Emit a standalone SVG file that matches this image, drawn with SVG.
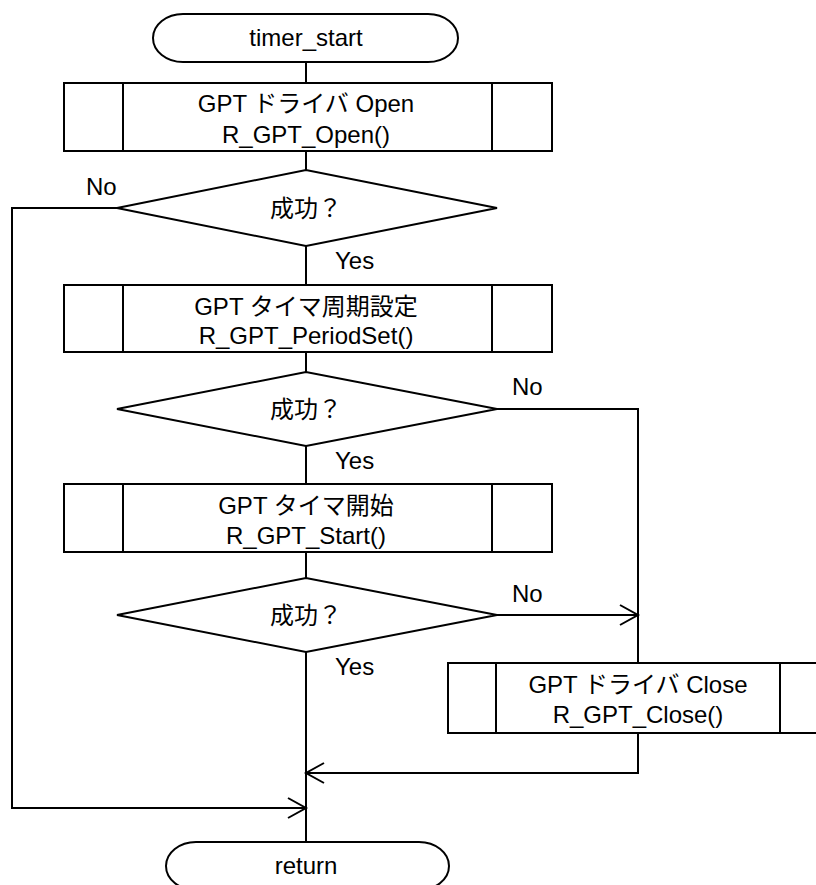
<svg xmlns="http://www.w3.org/2000/svg" width="816" height="885" viewBox="0 0 816 885">
<style>
.s{fill:#fff;stroke:#000;stroke-width:2}
.l{fill:none;stroke:#000;stroke-width:2}
text{font-family:"Liberation Sans","Noto Sans CJK JP",sans-serif;font-size:24px;fill:#000}
.c{text-anchor:middle}
</style>
<defs>
<marker id="arr" viewBox="-20 -12 22 24" refX="0" refY="0" markerWidth="22" markerHeight="24" orient="auto" markerUnits="userSpaceOnUse" overflow="visible">
<path d="M-18,-10 L0,0 L-18,10" fill="none" stroke="#000" stroke-width="2"/>
</marker>
</defs>
<rect width="816" height="885" fill="#fff"/>
<g id="connectors">
<path class="l" d="M306,62 V83 M306,151 V170 M306,246 V285 M306,352 V372 M306,446 V484 M306,552 V578 M306,652 V842"/>
<path class="l" d="M117,208 H12 V808 H306" marker-end="url(#arr)"/>
<path class="l" d="M497,409 H638 V663"/>
<path class="l" d="M497,615 H638" marker-end="url(#arr)"/>
<path class="l" d="M638,733 V773 H306" marker-end="url(#arr)"/>
<text x="86" y="195">No</text>
<text x="335" y="269">Yes</text>
<text x="512" y="395">No</text>
<text x="335" y="469">Yes</text>
<text x="512" y="602">No</text>
<text x="335" y="675">Yes</text>
</g>
<g id="start">
<rect class="s" x="153" y="14" width="305" height="48" rx="30" ry="24"/>
<text class="c" x="306" y="46">timer_start</text>
</g>
<g id="open">
<rect class="s" x="64" y="83" width="488" height="68"/>
<path class="l" d="M123,83 V151 M492,83 V151"/>
<text class="c" x="306" y="112">GPT ドライバ Open</text>
<text class="c" x="306" y="143">R_GPT_Open()</text>
</g>
<g id="dec1">
<polygon class="s" points="117,208 306,170 497,208 306,246"/>
<text class="c" x="306" y="217">成功？</text>
</g>
<g id="period">
<rect class="s" x="64" y="285" width="488" height="67"/>
<path class="l" d="M123,285 V352 M492,285 V352"/>
<text class="c" x="306" y="315">GPT タイマ周期設定</text>
<text class="c" x="306" y="344">R_GPT_PeriodSet()</text>
</g>
<g id="dec2">
<polygon class="s" points="117,409 306,372 497,409 306,446"/>
<text class="c" x="306" y="418">成功？</text>
</g>
<g id="start2">
<rect class="s" x="64" y="484" width="488" height="68"/>
<path class="l" d="M123,484 V552 M492,484 V552"/>
<text class="c" x="306" y="514">GPT タイマ開始</text>
<text class="c" x="306" y="544">R_GPT_Start()</text>
</g>
<g id="dec3">
<polygon class="s" points="117,615 306,578 497,615 306,652"/>
<text class="c" x="306" y="624">成功？</text>
</g>
<g id="close">
<rect class="s" x="448" y="663" width="380" height="70"/>
<path class="l" d="M496,663 V733 M780,663 V733"/>
<text class="c" x="638" y="693">GPT ドライバ Close</text>
<text class="c" x="638" y="723">R_GPT_Close()</text>
</g>
<g id="return">
<rect class="s" x="166" y="842" width="283" height="48" rx="30" ry="24"/>
<text class="c" x="306" y="874">return</text>
</g>
</svg>
